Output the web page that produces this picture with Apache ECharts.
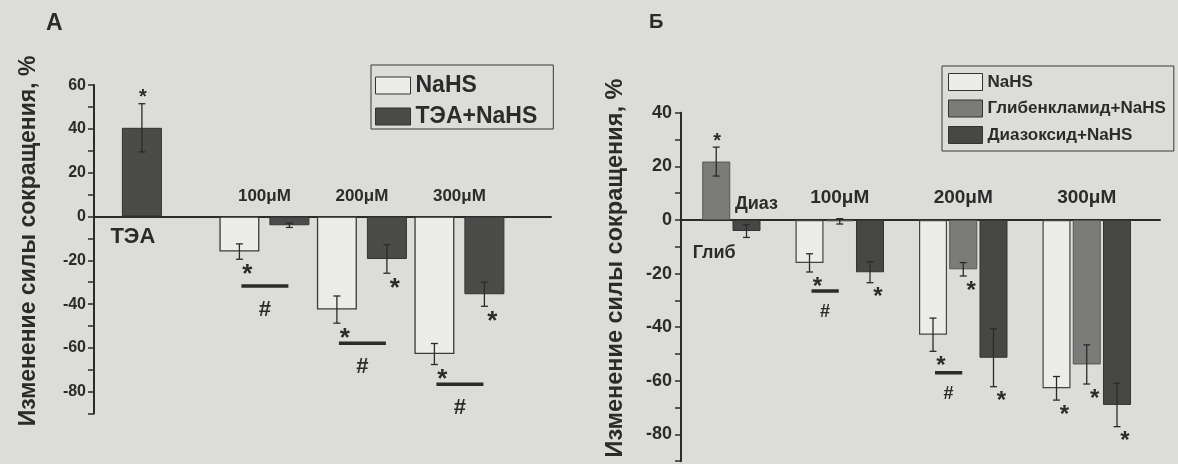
<!DOCTYPE html>
<html>
<head>
<meta charset="utf-8">
<title>Изменение силы сокращения</title>
<script src="https://cdn.jsdelivr.net/npm/echarts@6.0.0/dist/echarts.min.js"></script>
<style>
  html, body { margin: 0; padding: 0; background: #dcdcd8; }
  #main { width: 1178px; height: 464px; }
</style>
</head>
<body>
<div id="main"></div>
<script>
// ---------- панель А ----------
var groupsA = ['', '100μM', '200μM', '300μM'];
var ticksA = [60, 40, 20, 0, -20, -40, -60, -80];
var soloLabelA = ['ТЭА', '', '', ''];
var teaOnlyA = [40.5, null, null, null];      // ТЭА без NaHS
var teaOnlyErrA = [11, 0, 0, 0];
var nahsA = [null, -16, -42.5, -62.8];
var nahsErrA = [0, 3.5, 6.2, 4.8];
var teaNahsA = [null, -4, -19.4, -35.5];
var teaNahsErrA = [0, 1, 6.5, 5.5];
var starTeaOnlyA = [1, 0, 0, 0];
var starNahsA = [0, 1, 1, 1];
var starTeaNahsA = [0, 0, 1, 1];
var hashA = [null, -31.7, -57.9, -76.6];      // уровень линии с #

// ---------- панель Б ----------
var groupsB = ['', '100μM', '200μM', '300μM'];
var ticksB = [40, 20, 0, -20, -40, -60, -80];
var soloGlibB = ['Глиб', '', '', ''];
var soloDiazB = ['Диаз', '', '', ''];
var nahsB = [null, -16, -42.8, -62.8];
var nahsErrB = [0, 3.4, 6.2, 4.4];
var glibB = [21.8, -0.5, -18.4, -53.9];
var glibErrB = [5.4, 1, 2.5, 7.3];
var diazB = [-4.1, -19.5, -51.4, -69];
var diazErrB = [2.4, 3.9, 10.8, 8.1];
var starNahsB = [0, 1, 1, 1];
var starGlibB = [1, 0, 1, 1];
var starDiazB = [0, 1, 1, 1];
var hashB = [null, -26.5, -57, null];

var ink = '#2b2b2b';
var font = 'Liberation Sans, Arial, sans-serif';
var layoutA = { count: 2, barWidth: 40, barGap: '25%' };
var layoutB = { count: 3, barWidth: 28, barGap: '8%' };

var chart = echarts.init(document.getElementById('main'));

// центр столбика внутри категории
function slotCenter(api, opt, slot) {
  var lay = api.barLayout ? api.barLayout(opt) : null;
  if (lay && lay[slot] && isFinite(lay[slot].offsetCenter)) return lay[slot].offsetCenter;
  var gap = opt.barWidth * parseFloat(opt.barGap) / 100;
  return (slot - (opt.count - 1) / 2) * (opt.barWidth + gap);
}

function errData(vals, errs, stars, slot) {
  var out = [];
  for (var i = 0; i < vals.length; i++) {
    if (vals[i] == null) continue;
    out.push([i, vals[i], errs[i], slot, stars[i]]);
  }
  return out;
}

function hashData(levels) {
  var out = [];
  for (var i = 0; i < levels.length; i++) {
    if (levels[i] != null) out.push([i, levels[i]]);
  }
  return out;
}

function groupData(names) {
  var out = [];
  for (var i = 0; i < names.length; i++) {
    if (names[i]) out.push([i, 0]);
  }
  return out;
}

function makeErrRender(opt, starSize) {
  return function (params, api) {
    var idx = api.value(0), v = api.value(1), e = api.value(2);
    var x = api.coord([idx, v])[0] + slotCenter(api, opt, api.value(3));
    var yHi = api.coord([idx, v + e])[1];
    var yLo = api.coord([idx, v - e])[1];
    var cap = 3.5;
    var st = { stroke: ink, lineWidth: 1.3 };
    var kids = [
      { type: 'line', shape: { x1: x, y1: yHi, x2: x, y2: yLo }, style: st },
      { type: 'line', shape: { x1: x - cap, y1: yHi, x2: x + cap, y2: yHi }, style: st },
      { type: 'line', shape: { x1: x - cap, y1: yLo, x2: x + cap, y2: yLo }, style: st }
    ];
    if (api.value(4)) {
      var up = v > 0;
      var fs = up ? 20 : starSize;
      var sx = up ? x + 1 : x + 8;
      var sy = up ? yHi - 10 : yLo + 10;
      kids.push({
        type: 'text', x: sx, y: sy + 0.21 * fs,
        style: { text: '*', fill: ink, font: 'bold ' + fs + 'px ' + font, align: 'center', verticalAlign: 'middle' }
      });
    }
    return { type: 'group', children: kids };
  };
}

function makeHashRender(opt, hashSize, below) {
  return function (params, api) {
    var idx = api.value(0);
    var c = api.coord([idx, api.value(1)]);
    var x1 = c[0] + slotCenter(api, opt, 0) + 2;
    var x2 = c[0] + slotCenter(api, opt, 1) - 1;
    return {
      type: 'group', children: [
        { type: 'line', shape: { x1: x1, y1: c[1], x2: x2, y2: c[1] }, style: { stroke: ink, lineWidth: 3.5 } },
        {
          type: 'text', x: (x1 + x2) / 2, y: c[1] + below,
          style: { text: '#', fill: ink, font: 'bold ' + hashSize + 'px ' + font, align: 'center', verticalAlign: 'middle' }
        }
      ]
    };
  };
}

// подписи концентраций над нулевой линией
function makeGroupRender(names, size, above) {
  return function (params, api) {
    var idx = api.value(0);
    var c = api.coord([idx, 0]);
    return {
      type: 'text', x: c[0], y: c[1] - above,
      style: { text: names[idx], fill: ink, font: 'bold ' + size + 'px ' + font, align: 'center', verticalAlign: 'middle' }
    };
  };
}

function soloLabel(text, pos, dist, size, dx) {
  return { show: true, position: pos, distance: dist, formatter: text, fontSize: size,
           fontWeight: 'bold', color: ink, offset: [dx, 0] };
}

// столбики А: ТЭА один стоит в первом слоте
var nahsSeriesA = nahsA.map(function (v, i) {
  if (teaOnlyA[i] != null) {
    return { value: teaOnlyA[i], itemStyle: { color: '#4b4c49', borderColor: '#333', borderWidth: 1 },
             label: soloLabel(soloLabelA[i], 'bottom', 9, 22, -9) };
  }
  return v;
});
var glibSeriesB = glibB.map(function (v, i) {
  return soloGlibB[i] ? { value: v, label: soloLabel(soloGlibB[i], 'bottom', 24, 18, -2) } : v;
});
var diazSeriesB = diazB.map(function (v, i) {
  return soloDiazB[i] ? { value: v, label: soloLabel(soloDiazB[i], 'top', 7, 18, 10) } : v;
});

var errA = errData(teaOnlyA, teaOnlyErrA, starTeaOnlyA, 0)
  .concat(errData(nahsA, nahsErrA, starNahsA, 0))
  .concat(errData(teaNahsA, teaNahsErrA, starTeaNahsA, 1));
var errB = errData(nahsB, nahsErrB, starNahsB, 0)
  .concat(errData(glibB, glibErrB, starGlibB, 1))
  .concat(errData(diazB, diazErrB, starDiazB, 2));

function zeroAxis(grid) {
  return { gridIndex: grid, type: 'category', data: [''],
           axisLine: { onZero: true, lineStyle: { color: ink, width: 2 } },
           axisTick: { show: false }, axisLabel: { show: false } };
}
function groupAxis(grid, cats) {
  return { gridIndex: grid, type: 'category', data: cats, show: false };
}
// ось для столбиков: та же шкала, но ничего не рисует
function hiddenValueAxis(grid, max) {
  return { gridIndex: grid, type: 'value', min: -90, max: max, show: false };
}
function valueAxis(grid, max, ticks, labelSize, margin, nameGap, namePad, nameSize) {
  return {
    gridIndex: grid, type: 'value', min: -90, max: max, interval: 10,
    axisLine: { show: true, lineStyle: { color: ink, width: 2 } },
    axisTick: { show: true, length: 6, lineStyle: { color: ink, width: 1.5 } },
    splitLine: { show: false },
    axisLabel: { margin: margin, fontSize: labelSize, fontWeight: 'bold', color: ink,
                 formatter: function (v) { return ticks.indexOf(v) >= 0 ? String(v) : ''; } },
    name: 'Изменение силы сокращения, %', nameLocation: 'middle', nameGap: nameGap,
    nameTextStyle: { fontSize: nameSize, fontWeight: 'bold', color: ink, padding: [0, 0, 0, namePad] }
  };
}

var option = {
  backgroundColor: '#dcdcd8',
  animation: false,
  textStyle: { fontFamily: font },
  title: [
    { text: 'А', left: 46, top: 12, padding: 0, textStyle: { fontSize: 23, fontWeight: 'bold', color: ink } },
    { text: 'Б', left: 649, top: 12, padding: 0, textStyle: { fontSize: 20, fontWeight: 'bold', color: ink } }
  ],
  legend: [
    { data: ['NaHS', 'ТЭА+NaHS'], left: 371, top: 65, orient: 'vertical', icon: 'rect',
      itemWidth: 35, itemHeight: 17, itemGap: 8, padding: [9, 16, 1, 4],
      borderColor: '#3a3a3a', borderWidth: 1, selectedMode: false,
      itemStyle: { borderColor: '#333', borderWidth: 1 },
      textStyle: { fontSize: 23, fontWeight: 'bold', color: ink } },
    { data: ['NaHS', 'Глибенкламид+NaHS', 'Диазоксид+NaHS'], left: 942, top: 66, orient: 'vertical', icon: 'rect',
      itemWidth: 34, itemHeight: 17, itemGap: 8.5, padding: [7, 8, 7, 6],
      borderColor: '#3a3a3a', borderWidth: 1, selectedMode: false,
      itemStyle: { borderColor: '#333', borderWidth: 1 },
      textStyle: { fontSize: 17, fontWeight: 'bold', color: ink } }
  ],
  grid: [
    { left: 94, top: 85.1, width: 457, height: 328.5 },      // А: оси
    { left: 118.15, top: 85.1, width: 390, height: 328.5 },  // А: столбики
    { left: 681, top: 112.8, width: 479, height: 348.4 },    // Б: оси
    { left: 654.5, top: 112.8, width: 494, height: 348.4 }   // Б: столбики
  ],
  xAxis: [
    zeroAxis(0),
    groupAxis(1, groupsA),
    zeroAxis(2),
    groupAxis(3, groupsB)
  ],
  yAxis: [
    valueAxis(0, 60, ticksA, 16, 8, 54, 17, 23),
    hiddenValueAxis(1, 60),
    valueAxis(2, 40, ticksB, 18, 9, 53, 38, 23.5),
    hiddenValueAxis(3, 40)
  ],
  series: [
    { name: 'NaHS', type: 'bar', xAxisIndex: 1, yAxisIndex: 1, barWidth: 40, barGap: '25%',
      data: nahsSeriesA, itemStyle: { color: '#ecece9', borderColor: '#3a3a3a', borderWidth: 1.3 } },
    { name: 'ТЭА+NaHS', type: 'bar', xAxisIndex: 1, yAxisIndex: 1, barWidth: 40, barGap: '25%',
      data: teaNahsA, itemStyle: { color: '#4b4c49', borderColor: '#333', borderWidth: 1 } },
    { name: 'errA', type: 'custom', xAxisIndex: 1, yAxisIndex: 1, z: 5, silent: true,
      renderItem: makeErrRender(layoutA, 26), data: errA },
    { name: 'hashA', type: 'custom', xAxisIndex: 1, yAxisIndex: 1, z: 5, silent: true,
      renderItem: makeHashRender(layoutA, 22, 24), data: hashData(hashA) },
    { name: 'groupsA', type: 'custom', xAxisIndex: 1, yAxisIndex: 1, z: 5, silent: true,
      renderItem: makeGroupRender(groupsA, 17, 20), data: groupData(groupsA) },

    { name: 'NaHS', type: 'bar', xAxisIndex: 3, yAxisIndex: 3, barWidth: 28, barGap: '8%',
      data: nahsB, itemStyle: { color: '#ecece9', borderColor: '#444', borderWidth: 1.2 } },
    { name: 'Глибенкламид+NaHS', type: 'bar', xAxisIndex: 3, yAxisIndex: 3, barWidth: 28, barGap: '8%',
      data: glibSeriesB, itemStyle: { color: '#7b7b79', borderColor: '#555', borderWidth: 1 } },
    { name: 'Диазоксид+NaHS', type: 'bar', xAxisIndex: 3, yAxisIndex: 3, barWidth: 28, barGap: '8%',
      data: diazSeriesB, itemStyle: { color: '#474745', borderColor: '#333', borderWidth: 1 } },
    { name: 'errB', type: 'custom', xAxisIndex: 3, yAxisIndex: 3, z: 5, silent: true,
      renderItem: makeErrRender(layoutB, 24), data: errB },
    { name: 'hashB', type: 'custom', xAxisIndex: 3, yAxisIndex: 3, z: 5, silent: true,
      renderItem: makeHashRender(layoutB, 18, 21), data: hashData(hashB) },
    { name: 'groupsB', type: 'custom', xAxisIndex: 3, yAxisIndex: 3, z: 5, silent: true,
      renderItem: makeGroupRender(groupsB, 19, 22), data: groupData(groupsB) }
  ]
};

chart.setOption(option);
</script>
</body>
</html>
